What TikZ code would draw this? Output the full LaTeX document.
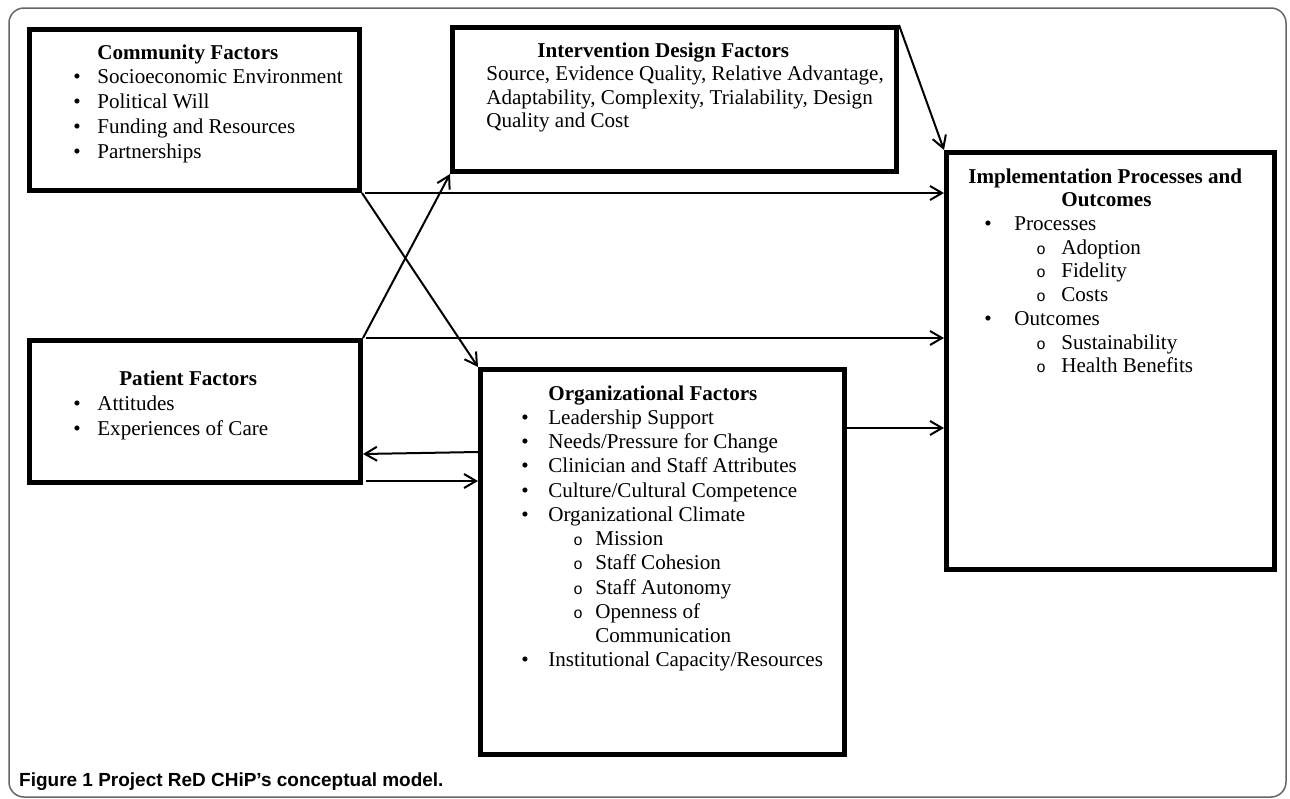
\documentclass[tikz,border=0pt]{standalone}
\usepackage{fontspec}
\setmainfont{Liberation Serif}
\newfontfamily\capfont{Liberation Sans}
\newfontfamily\ofont{Liberation Mono}
\usetikzlibrary{arrows.meta}

\newdimen\pxu \pxu=0.2mm
\newcommand{\bul}[1][24]{\makebox[#1\pxu][l]{\textbullet}}
\newcommand{\sbul}[2]{\hspace{#1\pxu}\makebox[#2\pxu][l]{\fontsize{9}{9}\selectfont\ofont o}}

\tikzset{
	factor/.style={draw, line width=1mm, inner sep=0},
	link/.style={line width=0.4mm, -{Straight Barb[length=2.4mm,width=2.8mm]}},
	boxtext/.style={font=\fontsize{12}{#1}\selectfont, inner sep=0, anchor=base west},
}

\begin{document}
\begin{tikzpicture}[x=0.2mm, y=-0.2mm]
	\useasboundingbox (0,0) rectangle (1290,799);
	\draw [black!60, line width=0.3mm, rounded corners=3mm] (9,8) rectangle (1286,797);

	% boxes
	\node [factor, minimum width=66mm, minimum height=32.2mm] (comm) at (194.5,110) {};
	\node [factor, minimum width=88.8mm, minimum height=28.8mm] (interv) at (674.5,99.5) {};
	\node [factor, minimum width=65.6mm, minimum height=83.4mm] (impl) at (1110.5,361) {};
	\node [factor, minimum width=66.2mm, minimum height=28.4mm] (pat) at (195,411.5) {};
	\node [factor, minimum width=72.8mm, minimum height=77mm] (org) at (662.5,562) {};

	% texts
	\node [boxtext=14.2] (commtxt) at ([shift={(46,32)}]comm.north west) {\begin{tabular}[t]{@{}l@{}}
		\hspace{24\pxu}\textbf{Community Factors}\\
		\bul Socioeconomic Environment\\
		\bul Political Will\\
		\bul Funding and Resources\\
		\bul Partnerships
	\end{tabular}};
	\node [boxtext=13.4] (intervtxt) at ([shift={(36,32)}]interv.north west) {\begin{tabular}[t]{@{}l@{}}
		\hspace{51\pxu}\textbf{Intervention Design Factors}\\
		Source, Evidence Quality, Relative Advantage,\\
		Adaptability, Complexity, Trialability, Design\\
		Quality and Cost
	\end{tabular}};
	\node [boxtext=13.5] (impltxt) at ([shift={(24,33)}]impl.north west) {\begin{tabular}[t]{@{}l@{}}
		\textbf{Implementation Processes and}\\
		\hspace{93\pxu}\textbf{Outcomes}\\
		\hspace{16\pxu}\bul[30]Processes\\
		\sbul{68}{25}Adoption\\
		\sbul{68}{25}Fidelity\\
		\sbul{68}{25}Costs\\
		\hspace{16\pxu}\bul[30]Outcomes\\
		\sbul{68}{25}Sustainability\\
		\sbul{68}{25}Health Benefits
	\end{tabular}};
	\node [boxtext=14.4] (pattxt) at ([shift={(46,47)}]pat.north west) {\begin{tabular}[t]{@{}l@{}}
		\hspace{46\pxu}\textbf{Patient Factors}\\
		\bul Attitudes\\
		\bul Experiences of Care
	\end{tabular}};
	\node [boxtext=13.8] (orgtxt) at ([shift={(43,33)}]org.north west) {\begin{tabular}[t]{@{}l@{}}
		\hspace{27\pxu}\textbf{Organizational Factors}\\
		\bul[27]Leadership Support\\
		\bul[27]Needs/Pressure for Change\\
		\bul[27]Clinician and Staff Attributes\\
		\bul[27]Culture/Cultural Competence\\
		\bul[27]Organizational Climate\\
		\sbul{52}{22}Mission\\
		\sbul{52}{22}Staff Cohesion\\
		\sbul{52}{22}Staff Autonomy\\
		\sbul{52}{22}Openness of\\
		\hspace{74\pxu}Communication\\
		\bul[27]Institutional Capacity/Resources
	\end{tabular}};

	% connectors
	\draw [link] (comm.south east) -- (org.north west);
	\draw [link] (pat.north east) -- (interv.south west);
	\draw [link] ([xshift=0.6mm]comm.south east) -- (comm.south east -| impl.west);
	\draw [link] ([xshift=0.6mm]pat.north east) -- (pat.north east -| impl.west);
	\draw [link] (interv.north east) -- (impl.north west);
	\draw [link] ([yshift=-8.1mm]pat.east -| org.west) -- ([yshift=-8.5mm]pat.east);
	\draw [link] ([yshift=-13.9mm,xshift=0.6mm]pat.east) -- ([yshift=-13.9mm]pat.east -| org.west);
	\draw [link] ([yshift=-12.2mm]org.north east) -- ([yshift=-12.2mm]org.north east -| impl.west);

	\node [anchor=base west, font=\fontsize{10.8}{12}\selectfont\capfont\bfseries] (caption) at (13,786) {Figure 1 Project ReD CHiP’s conceptual model.};
\end{tikzpicture}
\end{document}
